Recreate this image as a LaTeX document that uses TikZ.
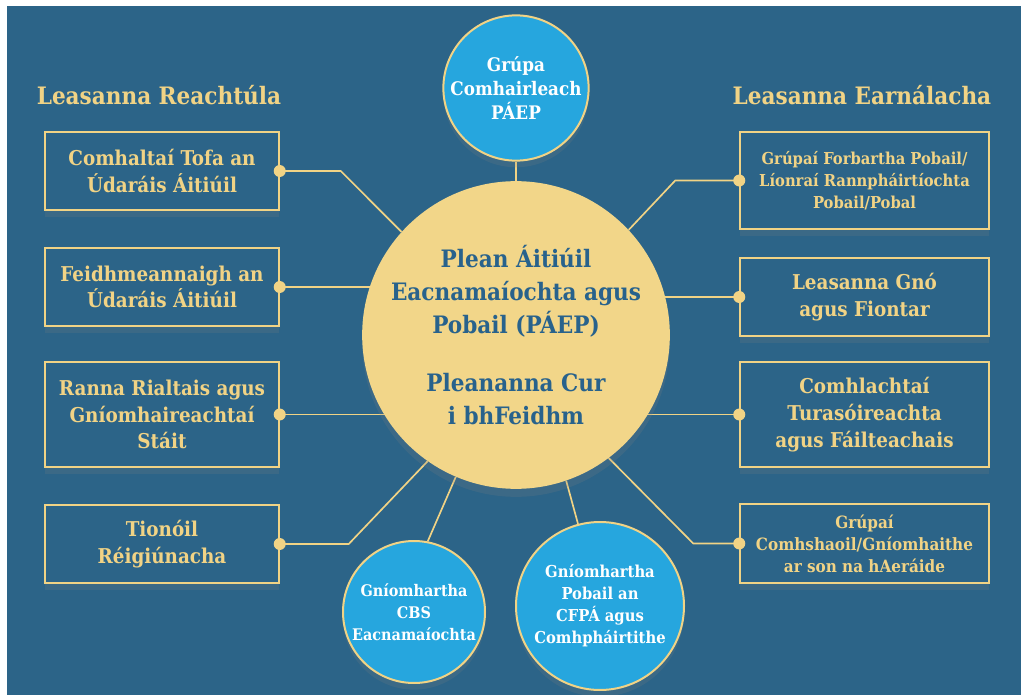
\documentclass[tikz,border=0pt]{standalone}
\usepackage{fontspec}
\setmainfont{DejaVu Serif Condensed}
\usetikzlibrary{positioning, calc, shadows, backgrounds}

\definecolor{bgblue}{RGB}{44,100,136}
\definecolor{gold}{RGB}{241,211,133}
\definecolor{sun}{RGB}{242,214,137}
\definecolor{sky}{RGB}{38,166,222}
\definecolor{ink}{RGB}{40,98,140}

\tikzset{
  heading/.style={text=gold, font=\bfseries\fontsize{18}{22}\selectfont},
  sidebox/.style={draw=gold, line width=1.1pt, fill=bgblue, text=gold, align=center,
    minimum width=175.5pt, inner sep=0pt, font=\bfseries\fontsize{15.3}{20}\selectfont,
    drop shadow={shadow xshift=0pt, shadow yshift=-5pt, opacity=0.18}},
  rightbox/.style={sidebox, minimum width=186.75pt},
  smallbox/.style={rightbox, font=\bfseries\fontsize{12.3}{16.5}\selectfont},
  bubble/.style={circle, draw=gold, line width=1.5pt, fill=sky, text=white, align=center,
    inner sep=0pt, font=\bfseries\fontsize{12.3}{16.5}\selectfont,
    drop shadow={shadow xshift=0pt, shadow yshift=-5pt, opacity=0.18}},
  link/.style={draw=gold, line width=1.25pt},
  dot/.style={circle, fill=gold, inner sep=0pt, minimum size=9pt},
}

\begin{document}
\begin{tikzpicture}[x=0.75pt, y=-0.75pt]
    % page and panel
    \begin{pgfonlayer}{background}
    \fill[white] (0,0) rectangle (1021,695);
    \fill[bgblue] (7,6) rectangle (1021,695);
    \end{pgfonlayer}
    \useasboundingbox (0,0) rectangle (1021,695);

    \node[heading] (lreacht) at (159,95) {Leasanna Reachtúla};
    \node[heading] (learn) at (862,95) {Leasanna Earnálacha};

    % centre
    \node[circle, fill=sun, minimum size=228pt, inner sep=0pt, text=ink, align=center,
      font=\bfseries\fontsize{18}{24.75}\selectfont,
      drop shadow={shadow xshift=0pt, shadow yshift=-6pt, opacity=0.2}] (plan) at (516,335)
      {Plean Áitiúil\\Eacnamaíochta agus\\Pobail (PÁEP)\\[18.75pt]Pleananna Cur\\i bhFeidhm};

    % bubbles
    \node[bubble, minimum size=105pt, font=\bfseries\fontsize{14}{18}\selectfont] (grupa) at (516,88)
      {Grúpa\\Comhairleach\\PÁEP};
    \node[bubble, minimum size=106.5pt, font=\bfseries\fontsize{12}{16.5}\selectfont] (cbs) at (414,612)
      {Gníomhartha\\CBS\\Eacnamaíochta};
    \node[bubble, minimum size=126pt] (cfpa) at (600,606)
      {Gníomhartha\\Pobail an\\CFPÁ agus\\Comhpháirtithe};

    % statutory side
    \node[sidebox, minimum height=58.5pt] (tofa) at (162,171) {Comhaltaí Tofa an\\Údaráis Áitiúil};
    \node[sidebox, minimum height=58.5pt] (feidh) at (162,287) {Feidhmeannaigh an\\Údaráis Áitiúil};
    \node[sidebox, minimum height=78.75pt] (ranna) at (162,414.5) {Ranna Rialtais agus\\Gníomhaireachtaí\\Stáit};
    \node[sidebox, minimum height=58.5pt] (tionoil) at (162,544) {Tionóil\\Réigiúnacha};

    % sectoral side
    \node[smallbox, minimum height=72.75pt] (pobal) at (864.5,180.5)
      {Grúpaí Forbartha Pobail/\\Líonraí Rannpháirtíochta\\Pobail/Pobal};
    \node[rightbox, minimum height=58.5pt] (gno) at (864.5,297) {Leasanna Gnó\\agus Fiontar};
    \node[rightbox, minimum height=78.75pt] (turas) at (864.5,414.5)
      {Comhlachtaí\\Turasóireachta\\agus Fáilteachais};
    \node[smallbox, minimum height=59.25pt, font=\bfseries\fontsize{12.7}{16.5}\selectfont] (aeraid) at (864.5,543.5)
      {Grúpaí\\Comhshaoil/Gníomhaithe\\ar son na hAeráide};

    % connectors
    \begin{pgfonlayer}{background}
    \draw[link] (tofa.east) -- ++(61,0) -- (plan.138);
    \draw[link] (feidh.east) -- (feidh.east -| plan.center);
    \draw[link] (ranna.east) -- (ranna.east -| plan.center);
    \draw[link] (tionoil.east) -- ++(69,0) -- (plan.235);
    \draw[link] (pobal.west) -- ++(-64,0) -- (plan.43);
    \draw[link] (gno.west) -- (gno.west -| plan.center);
    \draw[link] (turas.west) -- (turas.west -| plan.center);
    \draw[link] (aeraid.west) -- ++(-46,0) -- (plan.307);
    \draw[link] (grupa.south) -- (plan.north);
    \draw[link] (cbs.79) -- (plan.247);
    \draw[link] (cfpa.105) -- (plan.289);
    \end{pgfonlayer}

    \node[dot] (dtofa) at (tofa.east) {};
    \node[dot] (dfeidh) at (feidh.east) {};
    \node[dot] (dranna) at (ranna.east) {};
    \node[dot] (dtionoil) at (tionoil.east) {};
    \node[dot] (dpobal) at (pobal.west) {};
    \node[dot] (dgno) at (gno.west) {};
    \node[dot] (dturas) at (turas.west) {};
    \node[dot] (daeraid) at (aeraid.west) {};
\end{tikzpicture}
\end{document}
